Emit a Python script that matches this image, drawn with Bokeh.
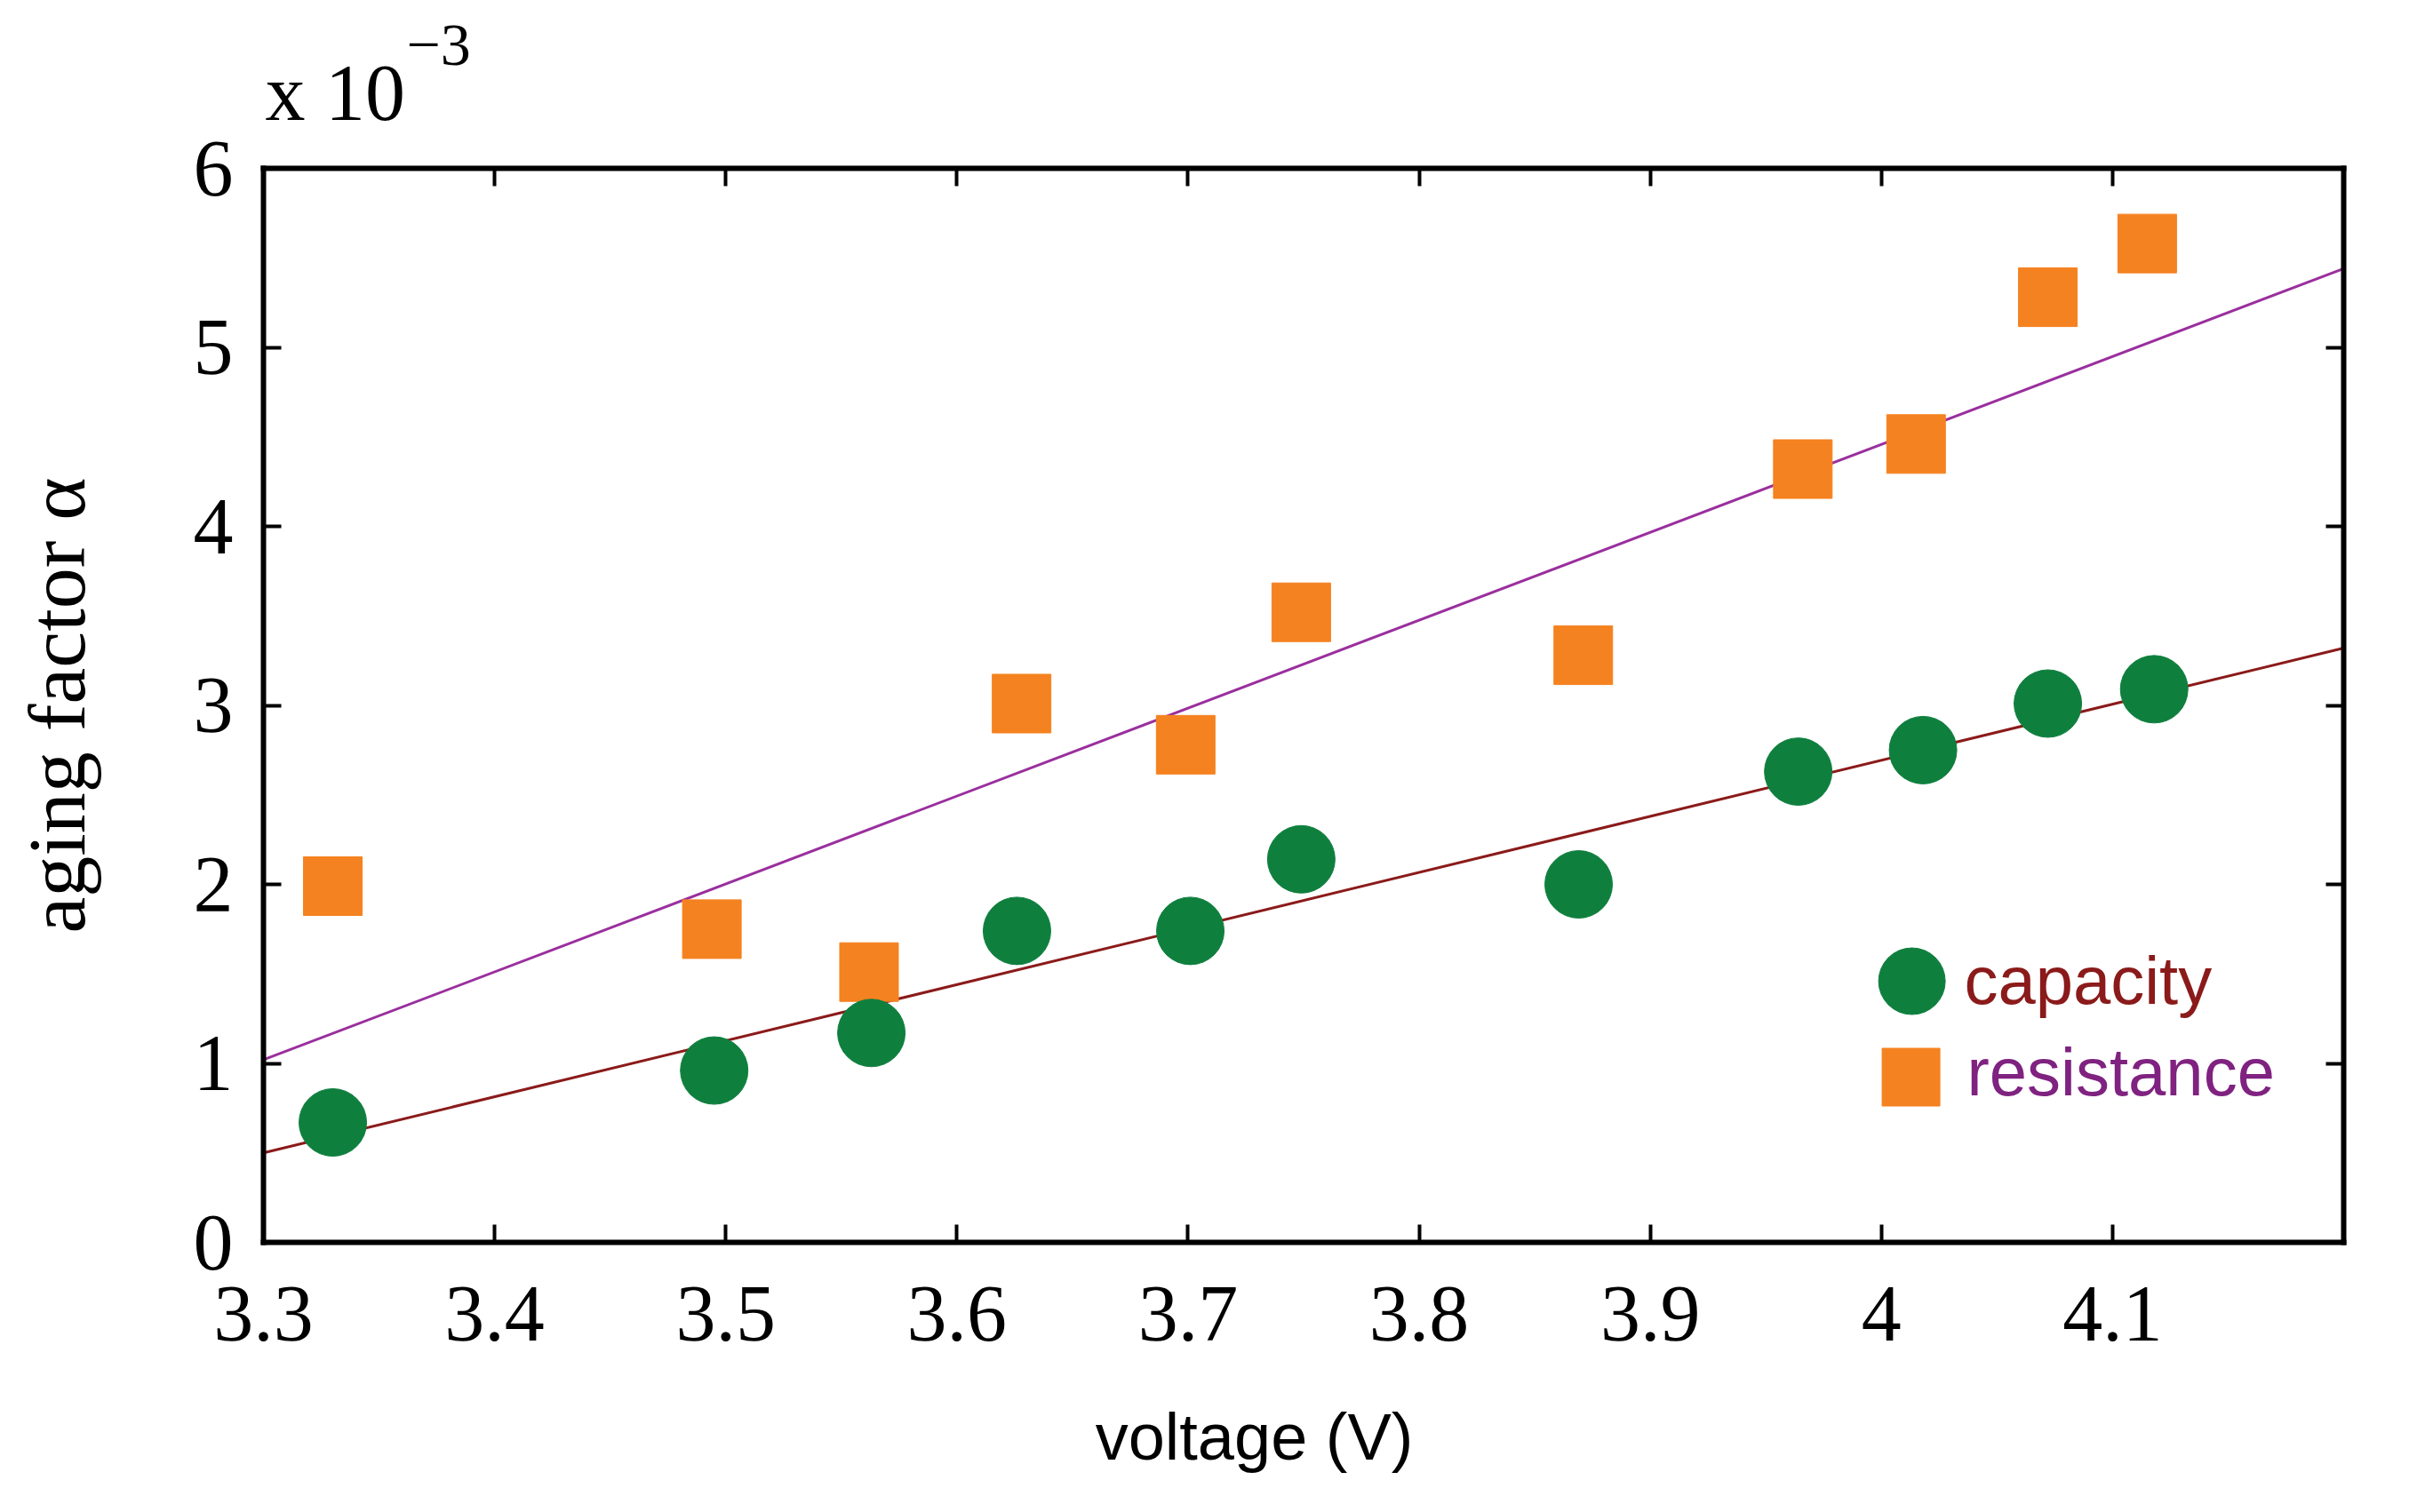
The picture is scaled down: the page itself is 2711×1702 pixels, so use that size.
from bokeh.plotting import figure
from bokeh.models import Range1d, FixedTicker, LinearAxis, Label, CustomJSTickFormatter
from bokeh.embed import file_html
from bokeh.resources import INLINE

# values (y in units of 1e-3)
voltage_cap = [3.330, 3.495, 3.563, 3.626, 3.701, 3.749, 3.869, 3.964, 4.018, 4.072, 4.118]
capacity = [0.67, 0.96, 1.17, 1.74, 1.74, 2.14, 2.00, 2.63, 2.75, 3.01, 3.09]
voltage_res = [3.330, 3.494, 3.562, 3.628, 3.699, 3.749, 3.871, 3.966, 4.015, 4.072, 4.115]
resistance = [1.99, 1.75, 1.51, 3.01, 2.78, 3.52, 3.28, 4.32, 4.46, 5.28, 5.58]

# fitted lines, end points as drawn
fit_v = [3.3, 4.2]
capacity_fit = [0.50, 3.32]
resistance_fit = [1.02, 5.44]

x_ticks = [3.3, 3.4, 3.5, 3.6, 3.7, 3.8, 3.9, 4.0, 4.1]
x_tick_labels = ["3.3", "3.4", "3.5", "3.6", "3.7", "3.8", "3.9", "4", "4.1"]
y_ticks = [0, 1, 2, 3, 4, 5, 6]
X_MIN, X_MAX = 3.3, 4.2
Y_MIN, Y_MAX = 0, 6

GREEN = "#0f7f3e"
ORANGE = "#f58220"
DARKRED = "#8b1a1a"
PURPLE = "#9a2f9e"
SERIF = "Liberation Serif"
SANS = "Liberation Sans"

# the frame fills the whole canvas so that the texts outside the box are not clipped;
# the box itself is made of four axes pinned at the data limits
W, H = 2711, 1702
box_left, box_right, box_top, box_bottom = 296, 2637, 189, 1398
px_x = (box_right - box_left) / (X_MAX - X_MIN)
px_y = (box_bottom - box_top) / (Y_MAX - Y_MIN)
x_range = Range1d(X_MIN - box_left / px_x, X_MAX + (W - box_right) / px_x)
y_range = Range1d(Y_MIN - (H - box_bottom) / px_y, Y_MAX + box_top / px_y)

p = figure(width=W, height=H, output_backend="svg", toolbar_location=None,
           x_range=x_range, y_range=y_range, min_border=0,
           x_axis_type=None, y_axis_type=None)
p.grid.visible = False
p.outline_line_color = None
p.background_fill_color = "white"
p.border_fill_color = "white"


def make_axis(ticks, bounds, loc, show_labels):
    ax = LinearAxis(fixed_location=loc, bounds=bounds)
    ax.ticker = FixedTicker(ticks=ticks)
    ax.axis_line_color = "black"
    ax.axis_line_width = 6
    ax.axis_line_cap = "square"
    ax.major_tick_in = 20
    ax.major_tick_out = 0
    ax.major_tick_line_width = 4
    ax.major_tick_line_color = "black"
    ax.minor_tick_line_color = None
    ax.major_label_text_font = SERIF
    ax.major_label_text_font_size = "90px"
    ax.major_label_text_color = "black"
    if not show_labels:
        ax.formatter = CustomJSTickFormatter(code="return ''")
    return ax


xb = make_axis(x_ticks, (X_MIN, X_MAX), Y_MIN, True)
xb.major_label_overrides = dict(zip(x_ticks, x_tick_labels))
xb.major_label_standoff = 50
p.add_layout(xb, "below")

p.add_layout(make_axis(x_ticks, (X_MIN, X_MAX), Y_MAX, False), "above")

yl = make_axis(y_ticks, (Y_MIN, Y_MAX), X_MIN, True)
yl.axis_label = "aging factor α"
yl.major_label_standoff = 34
yl.axis_label_text_font = SERIF
yl.axis_label_text_font_size = "92px"
yl.axis_label_text_font_style = "normal"
yl.axis_label_text_color = "black"
yl.axis_label_standoff = 100
p.add_layout(yl, "left")

p.add_layout(make_axis(y_ticks, (Y_MIN, Y_MAX), X_MAX, False), "right")

# fit lines
p.line(fit_v, resistance_fit, line_color=PURPLE, line_width=3)
p.line(fit_v, capacity_fit, line_color=DARKRED, line_width=3)

# measurements
p.scatter(voltage_res, resistance, marker="square", size=66,
          fill_color=ORANGE, line_color=ORANGE)
p.scatter(voltage_cap, capacity, marker="circle", size=76,
          fill_color=GREEN, line_color=GREEN)

# legend drawn by hand so each label keeps its own colour
p.scatter([4.0132], [1.459], marker="circle", size=75, fill_color=GREEN, line_color=GREEN)
p.scatter([4.0128], [0.923], marker="square", size=65, fill_color=ORANGE, line_color=ORANGE)
p.add_layout(Label(x=4.0358, y=1.464, text="capacity", text_font=SANS,
                   text_font_size="76px", text_color=DARKRED, text_baseline="alphabetic"))
p.add_layout(Label(x=4.0370, y=0.953, text="resistance", text_font=SANS,
                   text_font_size="76px", text_color="#7f2280", text_baseline="alphabetic"))

# exponent note above the y axis
p.add_layout(Label(x=3.3008, y=6.422, text="x 10", text_font=SERIF,
                   text_font_size="90px", text_color="black", text_baseline="alphabetic"))
p.add_layout(Label(x=3.3619, y=6.685, text="−3", text_font=SERIF,
                   text_font_size="68px", text_color="black", text_baseline="alphabetic"))

# x axis title
p.add_layout(Label(x=3.7287, y=-1.087, text="voltage (V)", text_font=SANS,
                   text_font_size="74px", text_color="black",
                   text_align="center", text_baseline="alphabetic"))

open("out.html", "w").write(file_html(p, INLINE))
